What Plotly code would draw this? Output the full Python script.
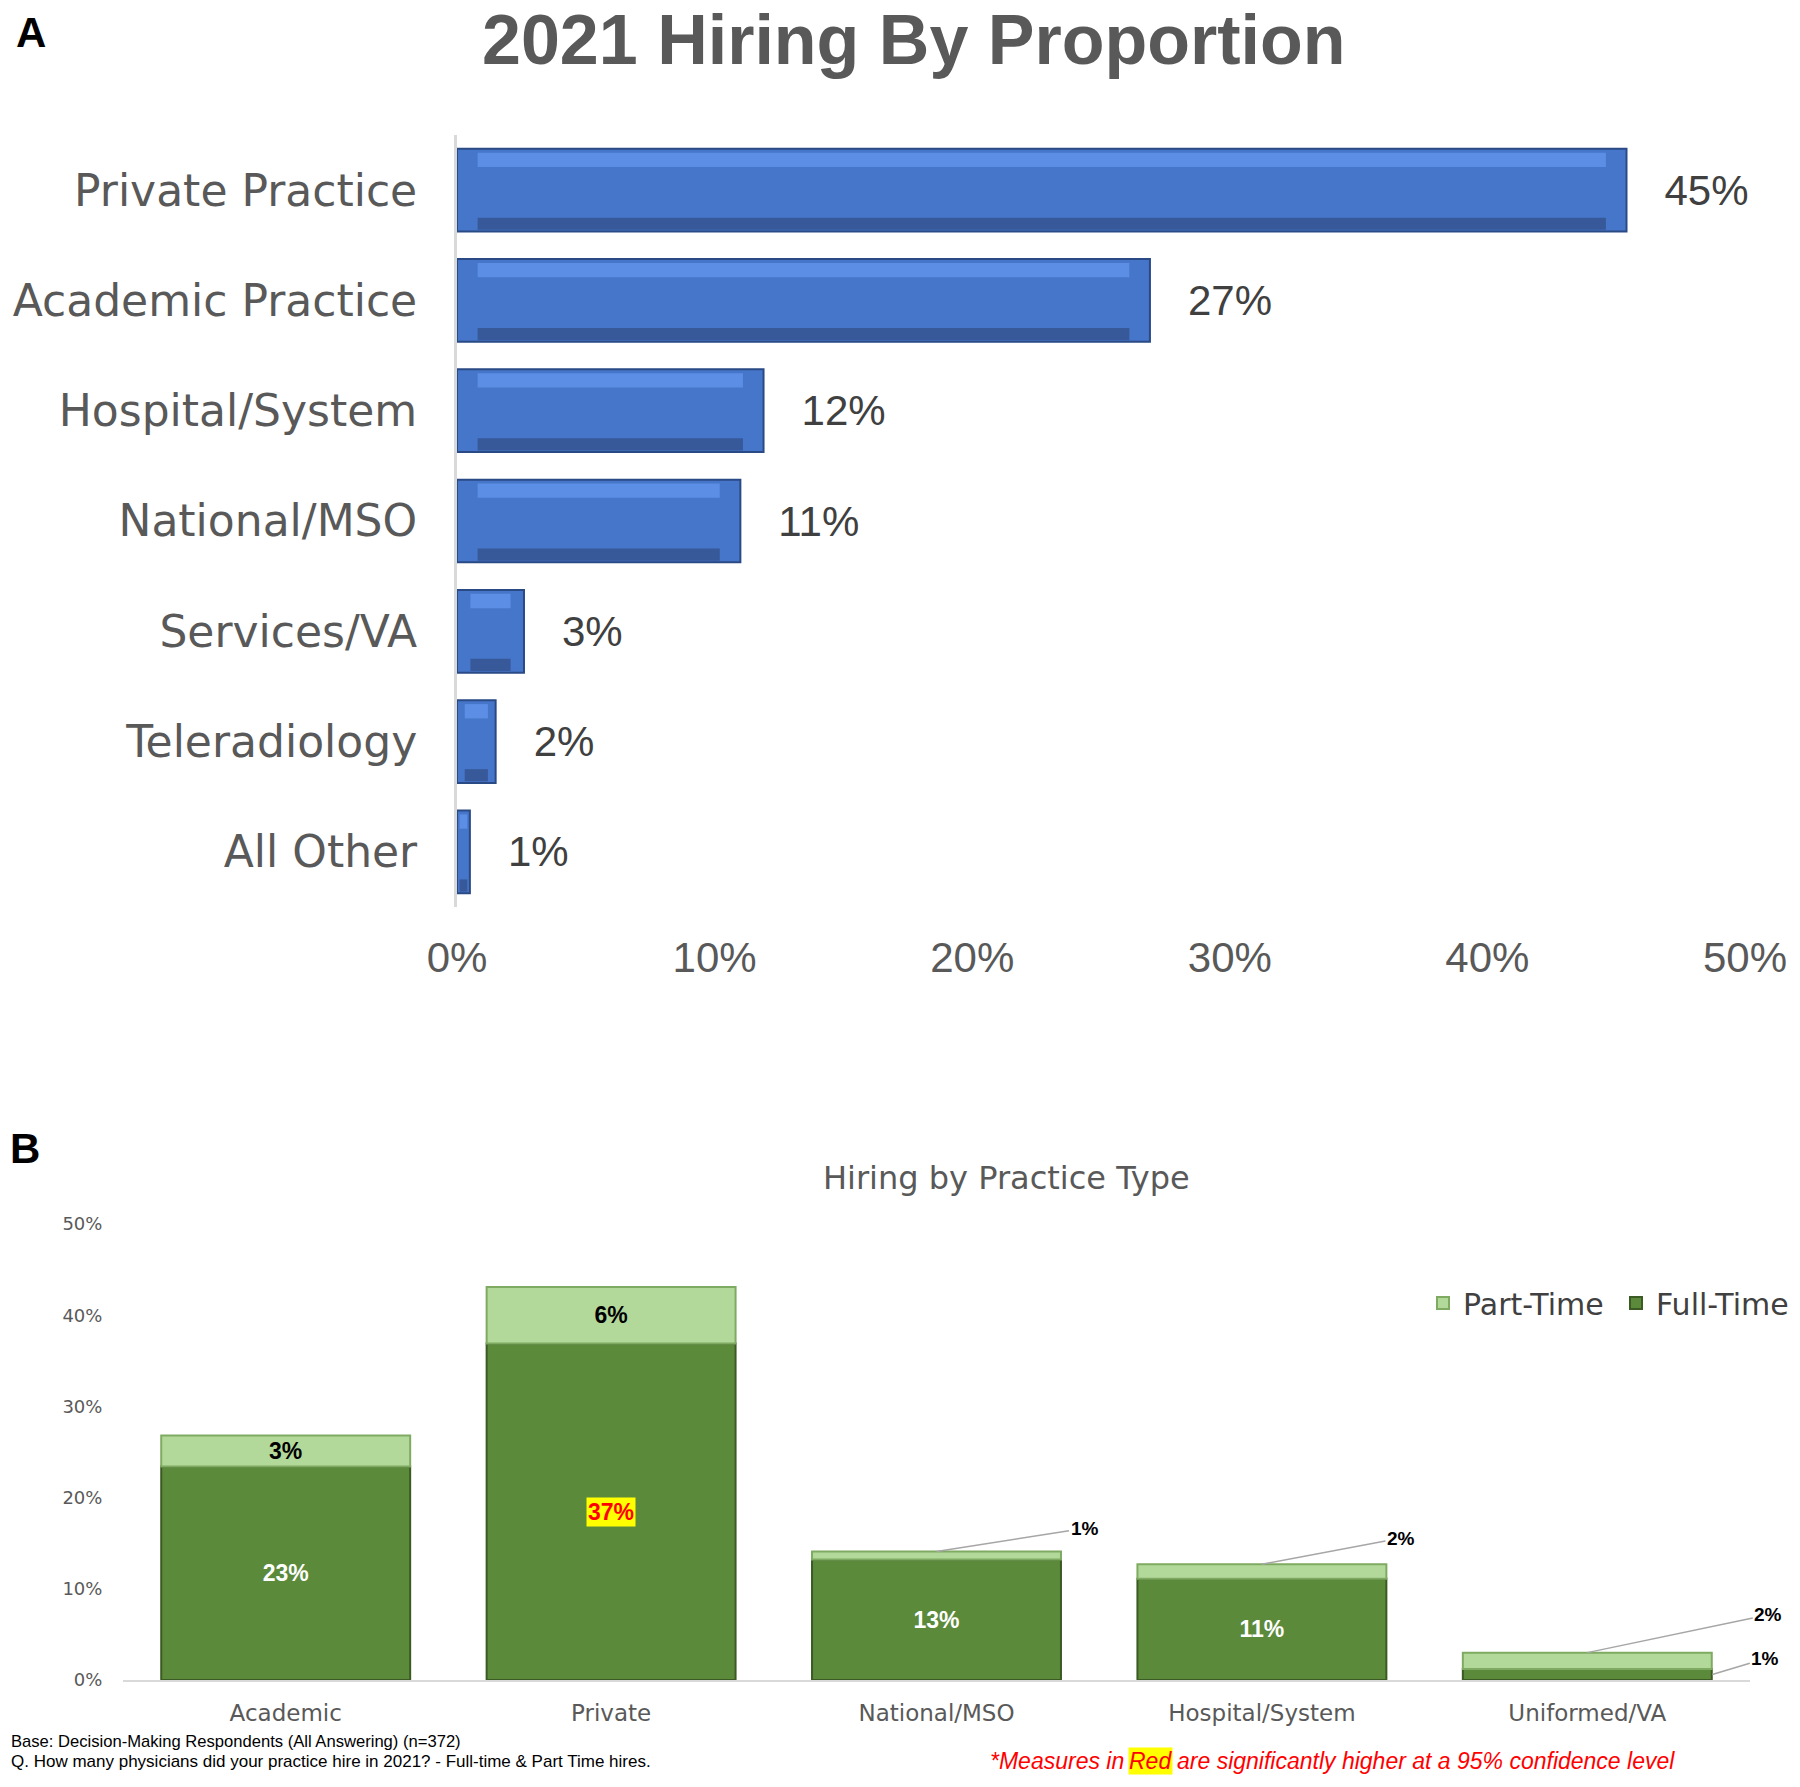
import plotly.graph_objects as go

# Panel A: 2021 hiring by proportion
a_categories = ["Private Practice", "Academic Practice", "Hospital/System", "National/MSO",
                "Services/VA", "Teleradiology", "All Other"]
a_values = [45.4, 26.9, 11.9, 11.0, 2.6, 1.5, 0.5]
a_labels = ["45%", "27%", "12%", "11%", "3%", "2%", "1%"]

# Panel B: hiring by practice type (stacked)
b_categories = ["Academic", "Private", "National/MSO", "Hospital/System", "Uniformed/VA"]
b_full = [23.4, 36.9, 13.2, 11.1, 1.2]
b_part = [3.4, 6.2, 0.9, 1.6, 1.8]
b_full_labels = ["23%", "37%", "13%", "11%", "1%"]
b_part_labels = ["3%", "6%", "1%", "2%", "2%"]
b_full_significant = [False, True, False, False, False]

GREY = "#595959"
DARK = "#404040"
W, H = 1800, 1787

# callout offsets (pixels) for segments too thin to hold a label
callouts = {
    ("part", "National/MSO"): dict(ax=148, ay=-23, xshift=0),
    ("part", "Hospital/System"): dict(ax=139, ay=-26, xshift=0),
    ("part", "Uniformed/VA"): dict(ax=181, ay=-38, xshift=0),
    ("full", "Uniformed/VA"): dict(ax=53, ay=-16, xshift=125),
}
MIN_INSIDE = 2.5

fig = go.Figure()

# ---- panel A bars with a simple bevel look
fig.add_trace(go.Bar(
    x=a_values, y=a_categories, orientation="h", xaxis="x", yaxis="y",
    width=0.75, marker=dict(color="#4676c9", line=dict(color="#2a4a85", width=2)),
    text=["\u00a0\u00a0\u00a0" + t for t in a_labels], textposition="outside",
    textfont=dict(family="Liberation Sans", size=42, color=DARK),
    constraintext="none", cliponaxis=False, showlegend=False, hoverinfo="skip"))
insets = [min(0.8, v * 0.2) for v in a_values]
fig.add_trace(go.Bar(
    x=[v - 2 * d for v, d in zip(a_values, insets)], base=insets, y=a_categories,
    orientation="h", xaxis="x", yaxis="y", width=0.13, offset=-0.34,
    marker=dict(color="#5b8ee4", line=dict(width=0)), showlegend=False, hoverinfo="skip"))
fig.add_trace(go.Bar(
    x=[v - 2 * d for v, d in zip(a_values, insets)], base=insets, y=a_categories,
    orientation="h", xaxis="x", yaxis="y", width=0.11, offset=0.25,
    marker=dict(color="#37599a", line=dict(width=0)), showlegend=False, hoverinfo="skip"))

# ---- panel B stacked bars
full_text = [t if (v >= MIN_INSIDE and not s) else "" for t, v, s in
             zip(b_full_labels, b_full, b_full_significant)]
part_text = [t if v >= MIN_INSIDE else "" for t, v in zip(b_part_labels, b_part)]

fig.add_trace(go.Bar(
    name="Full-Time", x=b_categories, y=b_full, xaxis="x2", yaxis="y2", width=0.765,
    marker=dict(color="#5b8a3a", line=dict(color="#3b5a24", width=2)),
    text=full_text, textposition="inside", insidetextanchor="middle",
    textfont=dict(family="Liberation Sans", size=23, color="white", weight="bold"),
    constraintext="none", hoverinfo="skip"))
fig.add_trace(go.Bar(
    name="Part-Time", x=b_categories, y=b_part, base=b_full, xaxis="x2", yaxis="y2",
    width=0.765, marker=dict(color="#b2d99a", line=dict(color="#7faa62", width=2)),
    text=part_text, textposition="inside", insidetextanchor="middle",
    textfont=dict(family="Liberation Sans", size=23, color="black", weight="bold"),
    constraintext="none", hoverinfo="skip"))

annotations = []
for cat, f, p, fl, pl, sig in zip(b_categories, b_full, b_part, b_full_labels,
                                  b_part_labels, b_full_significant):
    if sig:
        annotations.append(dict(
            x=cat, y=f / 2, xref="x2", yref="y2", text="<b>" + fl + "</b>", showarrow=False,
            font=dict(family="Liberation Sans", size=23, color="#ff0000"),
            bgcolor="#ffff00", borderpad=1))
    if p < MIN_INSIDE:
        c = callouts[("part", cat)]
        annotations.append(dict(
            x=cat, y=f + p, xref="x2", yref="y2", text="<b>" + pl + "</b>",
            showarrow=True, arrowhead=0, arrowwidth=1.5, arrowcolor="#a6a6a6",
            ax=c["ax"], ay=c["ay"], xshift=c["xshift"],
            font=dict(family="Liberation Sans", size=19, color="black")))
    if f < MIN_INSIDE:
        c = callouts[("full", cat)]
        annotations.append(dict(
            x=cat, y=f / 2, xref="x2", yref="y2", text="<b>" + fl + "</b>",
            showarrow=True, arrowhead=0, arrowwidth=1.5, arrowcolor="#a6a6a6",
            ax=c["ax"], ay=c["ay"], xshift=c["xshift"],
            font=dict(family="Liberation Sans", size=19, color="black")))

def paper(px, py):
    return px / W, 1 - py / H

# titles, panel letters, footnotes
for txt, (px, py), anchor, font in [
    ("<b>A</b>", (31, 33), "center", dict(family="Liberation Sans", size=42, color="black")),
    ("<b>2021 Hiring By Proportion</b>", (913, 40), "center",
     dict(family="Liberation Sans", size=70, color=GREY)),
    ("<b>B</b>", (25, 1148), "center", dict(family="Liberation Sans", size=42, color="black")),
    ("Hiring by Practice Type", (1007, 1178), "center",
     dict(family="DejaVu Sans", size=32, color=GREY)),
    ("Base: Decision-Making Respondents (All Answering) (n=372)", (9, 1741), "left",
     dict(family="Liberation Sans", size=16.6, color="black")),
    ("Q. How many physicians did your practice hire in 2021? - Full-time &amp; Part Time hires.",
     (9, 1761), "left", dict(family="Liberation Sans", size=17, color="black")),
    ("<i>*Measures in</i>", (1126, 1761), "right",
     dict(family="Liberation Sans", size=23, color="#ff0000")),
    ("<i>are significantly higher at a 95% confidence level</i>", (1175, 1761), "left",
     dict(family="Liberation Sans", size=23, color="#ff0000")),
]:
    x, y = paper(px, py)
    annotations.append(dict(x=x, y=y, xref="paper", yref="paper", text=txt,
                            showarrow=False, xanchor=anchor, yanchor="middle", font=font))
x, y = paper(1150, 1761)
annotations.append(dict(x=x, y=y, xref="paper", yref="paper", text="<i>Red</i>",
                        showarrow=False, xanchor="center", yanchor="middle",
                        bgcolor="#ffff00", borderpad=0,
                        font=dict(family="Liberation Sans", size=23, color="#ff0000")))

fig.update_layout(
    width=W, height=H, margin=dict(l=0, r=0, t=0, b=0, autoexpand=False),
    paper_bgcolor="white", plot_bgcolor="white", barmode="overlay",
    xaxis=dict(domain=[457 / W, 1745 / W], range=[0, 50], dtick=10, ticksuffix="%",
               showgrid=False, zeroline=False, showline=False, anchor="y", automargin=False,
               tickfont=dict(family="Liberation Sans", size=42, color=GREY),
               ticks="outside", ticklen=0, ticklabelstandoff=14),
    yaxis=dict(domain=[1 - 907 / H, 1 - 135 / H], type="category", range=[6.5, -0.5],
               showgrid=False, zeroline=False, showline=True, linecolor="#d9d9d9",
               linewidth=3, anchor="x", ticks="outside", ticklen=0, ticklabelstandoff=28,
               automargin=False, tickfont=dict(family="DejaVu Sans", size=44, color=GREY)),
    xaxis2=dict(domain=[123 / W, 1750 / W], type="category", range=[-0.5, 4.5],
                showgrid=False, zeroline=False, showline=True, linecolor="#d9d9d9",
                linewidth=2, anchor="y2", ticks="outside", ticklen=0, ticklabelstandoff=11,
                automargin=False, tickfont=dict(family="DejaVu Sans", size=23, color=GREY)),
    yaxis2=dict(domain=[1 - 1680 / H, 1 - 1224 / H], range=[0, 50], dtick=10, ticksuffix="%",
                showgrid=False, zeroline=False, anchor="x2", ticks="outside", ticklen=0,
                ticklabelstandoff=16, automargin=False,
                tickfont=dict(family="DejaVu Sans", size=18, color=GREY)),
    legend=dict(orientation="h", x=1423 / W, y=1 - 1303 / H, xanchor="left", yanchor="middle",
                traceorder="reversed", bgcolor="rgba(0,0,0,0)",
                entrywidth=148, entrywidthmode="pixels",
                font=dict(family="DejaVu Sans", size=30, color=DARK)),
    annotations=annotations,
)

# drop the default page margin so the figure sits at the window's top-left corner
fig.write_html("out.html", config={"displayModeBar": False},
               post_script="document.body.style.margin = '0';")
